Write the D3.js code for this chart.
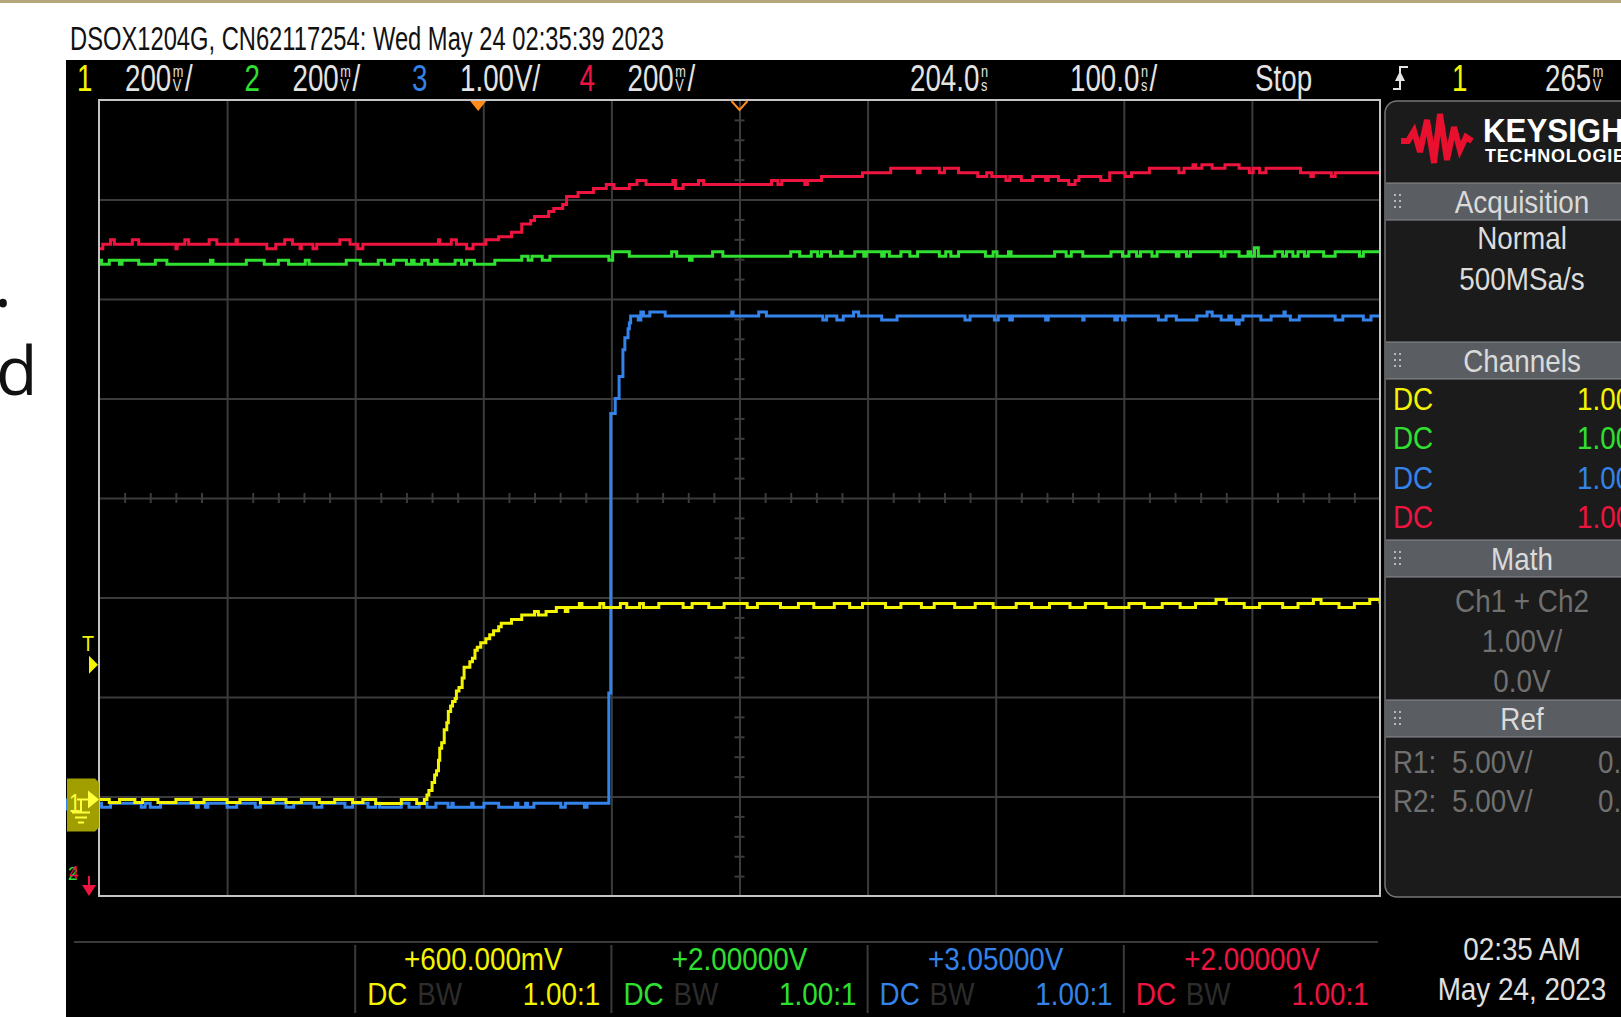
<!DOCTYPE html>
<html>
<head>
<meta charset="utf-8">
<script src="https://cdn.jsdelivr.net/npm/d3@7"></script>
<style>
  html, body { margin: 0; padding: 0; background: #fff; overflow: hidden; }
  svg { display: block; }
  text { font-family: "Liberation Sans", Arial, sans-serif; }
</style>
</head>
<body>
<div id="chart"></div>
<script>
const WIDTH = 1621, HEIGHT = 1017
const SCREEN = { LEFT: 66, TOP: 60 }
const GRID = { LEFT: 99, RIGHT: 1380, TOP: 100, BOTTOM: 896 }

// scope settings
const titleText = 'DSOX1204G, CN62117254: Wed May 24 02:35:39 2023'
const channelIds = ['1', '2', '3', '4']
const channelColors = ['#f4f400', '#30e030', '#3383ea', '#ee1440']
const voltsPerDiv = [0.2, 0.2, 1.0, 0.2]
const channelOffsets = [0.6, 2.0, 3.05, 2.0]
const scaleLabels = ['200mV/', '200mV/', '1.00V/', '200mV/']
const offsetLabels = ['+600.000mV', '+2.00000V', '+3.05000V', '+2.00000V']
const probeLabels = ['1.00:1', '1.00:1', '1.00:1', '1.00:1']
const timeDelay = 204.0
const timePerDiv = 100.0
const timeLabels = ['204.0ns', '100.0ns/']
const runState = 'Stop'
const triggerSource = '1'
const triggerTime = 0
const triggerLevel = 0.265
const triggerLabel = '265mV'

const acquisitionLines = ['Normal', '500MSa/s']
const channelCoupling = ['DC', 'DC', 'DC', 'DC']
const channelProbe = ['1.00', '1.00', '1.00', '1.00']
const mathLines = ['Ch1 + Ch2', '1.00V/', '0.0V']
const refLines = [['R1:', '5.00V/', '0.'], ['R2:', '5.00V/', '0.']]
const dateLines = ['02:35 AM', 'May 24, 2023']
const panelSections = ['Acquisition', 'Channels', 'Math', 'Ref']

// traces: [time ns, volts], each value holds until the next point
const ch1Trace = [[-296, -0.006], [-288, -0.012], [-280, -0.006], [-268, -0.012], [-262, -0.006], [-250, -0.012],
  [-236, -0.006], [-224, -0.012], [-214, -0.006], [-196, -0.012], [-186, -0.006], [-170, -0.012], [-160, -0.006],
  [-150, -0.012], [-138, -0.006], [-124, -0.012], [-112, -0.006], [-98, -0.012], [-90, -0.006], [-80, -0.014],
  [-60, -0.006], [-48, -0.014], [-42, -0.006], [-40, 0.003], [-38.5, 0.012], [-36, 0.028], [-34, 0.043],
  [-32.5, 0.052], [-31, 0.073], [-30, 0.097], [-28.5, 0.108], [-26.5, 0.134], [-24.5, 0.148], [-23.3, 0.171],
  [-21.5, 0.182], [-20, 0.191], [-18, 0.197], [-17, 0.212], [-15, 0.219], [-12.5, 0.238], [-11, 0.260],
  [-6.5, 0.271], [-4.5, 0.278], [-2.5, 0.294], [-0.7, 0.300], [2, 0.309], [6, 0.317], [9, 0.325], [12, 0.333],
  [16, 0.341], [18, 0.348], [26, 0.356], [34, 0.365], [44, 0.372], [47, 0.365], [53, 0.372], [61, 0.380],
  [68, 0.372], [70, 0.380], [79, 0.388], [81, 0.380], [95, 0.388], [98, 0.380], [111, 0.388], [116, 0.380],
  [126, 0.388], [129, 0.380], [141, 0.388], [160, 0.380], [167, 0.388], [180, 0.380], [192, 0.388], [210, 0.380],
  [218, 0.388], [236, 0.380], [250, 0.388], [262, 0.380], [278, 0.388], [290, 0.380], [300, 0.388], [318, 0.380],
  [330, 0.388], [346, 0.380], [356, 0.388], [372, 0.380], [388, 0.388], [402, 0.380], [420, 0.388], [432, 0.380],
  [446, 0.388], [462, 0.380], [474, 0.388], [490, 0.380], [508, 0.388], [520, 0.380], [534, 0.388], [548, 0.380],
  [560, 0.388], [576, 0.396], [584, 0.388], [598, 0.380], [610, 0.388], [628, 0.380], [640, 0.388], [652, 0.396],
  [658, 0.388], [672, 0.380], [684, 0.388], [696, 0.396], [704, 0.388]]

const ch2Trace = [[-296, 2.478], [-294, 2.470], [-288, 2.478], [-280, 2.470], [-278, 2.478], [-265, 2.470],
  [-252, 2.478], [-243, 2.470], [-209, 2.478], [-207, 2.470], [-181, 2.478], [-167, 2.470], [-156, 2.478],
  [-148, 2.470], [-135, 2.478], [-132, 2.470], [-103, 2.478], [-92, 2.470], [-78, 2.478], [-73, 2.470],
  [-66, 2.478], [-56, 2.470], [-52, 2.478], [-50, 2.470], [-44, 2.478], [-39, 2.470], [-34, 2.478], [-32, 2.470],
  [-18, 2.478], [-13, 2.470], [-9, 2.478], [-3, 2.470], [13, 2.478], [34, 2.486], [39, 2.478], [42, 2.486],
  [50, 2.478], [56, 2.486], [102, 2.478], [105, 2.495], [118, 2.486], [151, 2.495], [155, 2.486], [165, 2.478],
  [167, 2.486], [183, 2.495], [191, 2.486], [244, 2.495], [251, 2.486], [260, 2.495], [265, 2.486], [268, 2.495],
  [275, 2.486], [283, 2.495], [284, 2.486], [294, 2.495], [301, 2.486], [303, 2.495], [315, 2.486], [317, 2.495],
  [321, 2.486], [330, 2.495], [337, 2.486], [343, 2.495], [360, 2.486], [365, 2.495], [369, 2.486], [375, 2.495],
  [396, 2.486], [402, 2.495], [405, 2.486], [414, 2.495], [416, 2.486], [450, 2.495], [459, 2.486], [463, 2.495],
  [472, 2.486], [494, 2.495], [503, 2.486], [508, 2.495], [514, 2.486], [517, 2.495], [526, 2.486], [530, 2.495],
  [545, 2.486], [547, 2.495], [553, 2.486], [556, 2.495], [580, 2.486], [583, 2.495], [594, 2.486], [601, 2.495],
  [603, 2.486], [606, 2.503], [609, 2.486], [622, 2.495], [628, 2.486], [631, 2.495], [636, 2.486], [640, 2.495],
  [645, 2.486], [648, 2.495], [660, 2.486], [669, 2.495], [688, 2.486], [691, 2.495], [704, 2.495]]

const ch3Trace = [[-296, -0.018], [-294, -0.058], [-287, -0.018], [-263, -0.058], [-260, -0.018], [-256, -0.058],
  [-248, -0.018], [-220, -0.058], [-218.5, -0.018], [-213, -0.058], [-211, -0.018], [-196, -0.058],
  [-188.5, -0.018], [-174, -0.058], [-170, -0.018], [-150, -0.058], [-144, -0.018], [-128, -0.058],
  [-122, -0.018], [-104, -0.058], [-98, -0.018], [-86, -0.058], [-80, -0.018], [-77, -0.058], [-60, -0.018],
  [-54, -0.058], [-46, -0.018], [-40, -0.058], [-33, -0.018], [-23.5, -0.058], [-20.5, -0.018], [-19.5, -0.058],
  [-5, -0.018], [-4, -0.058], [4.5, -0.018], [16, -0.058], [29, -0.018], [31, -0.058], [37, -0.018],
  [38.5, -0.058], [43.5, -0.018], [64.5, -0.058], [68, -0.018], [83, -0.058], [85, -0.018], [102, 1.09],
  [103.5, 3.90], [107, 4.05], [110, 4.27], [113, 4.54], [114.5, 4.66], [117, 4.75], [118, 4.81], [119, 4.879],
  [125, 4.84], [127, 4.92], [129, 4.879], [134, 4.92], [146, 4.879], [198, 4.92], [199, 4.879], [219, 4.92],
  [225, 4.879], [269, 4.84], [272, 4.879], [280, 4.84], [285, 4.879], [293, 4.92], [297, 4.879], [315, 4.84],
  [327, 4.879], [380, 4.84], [384, 4.879], [403, 4.84], [406, 4.879], [415, 4.84], [417, 4.879], [443, 4.84],
  [445, 4.879], [472, 4.84], [473, 4.879], [497, 4.84], [499, 4.879], [503, 4.84], [505, 4.879], [531, 4.84],
  [537, 4.879], [545, 4.84], [561, 4.879], [569, 4.92], [573, 4.879], [580, 4.84], [586, 4.879], [588, 4.84],
  [592, 4.80], [594, 4.84], [597, 4.879], [611, 4.84], [619, 4.879], [629, 4.92], [630, 4.879], [634, 4.84],
  [641, 4.879], [669, 4.84], [675, 4.879], [691, 4.84], [697, 4.879], [704, 4.879]]

const ch4Trace = [[-296, 2.501], [-293, 2.510], [-287, 2.519], [-284, 2.510], [-270, 2.519], [-265, 2.510],
  [-236, 2.501], [-235, 2.510], [-229, 2.519], [-226, 2.510], [-210, 2.519], [-204, 2.510], [-189, 2.519],
  [-188, 2.510], [-165, 2.501], [-158, 2.510], [-151, 2.519], [-145, 2.510], [-139, 2.501], [-138, 2.510],
  [-129, 2.501], [-126, 2.510], [-108, 2.519], [-100, 2.510], [-94, 2.501], [-90, 2.510], [-31, 2.519],
  [-30, 2.510], [-21, 2.519], [-17, 2.510], [-9, 2.501], [-4, 2.510], [6, 2.519], [16, 2.525], [26, 2.534],
  [34, 2.551], [41, 2.558], [44, 2.566], [55, 2.576], [59, 2.582], [66, 2.590], [69, 2.606], [78, 2.614],
  [90, 2.622], [100, 2.630], [106, 2.622], [118, 2.630], [124, 2.638], [131, 2.630], [152, 2.638], [154, 2.622],
  [160, 2.630], [172, 2.638], [176, 2.630], [229, 2.638], [234, 2.630], [237, 2.638], [255, 2.630], [257, 2.638],
  [268, 2.646], [300, 2.654], [322, 2.663], [343, 2.654], [345, 2.663], [360, 2.654], [364, 2.663], [375, 2.654],
  [390, 2.646], [397, 2.654], [401, 2.646], [412, 2.638], [415, 2.646], [424, 2.638], [433, 2.646], [443, 2.638],
  [445, 2.646], [453, 2.638], [461, 2.630], [466, 2.638], [469, 2.646], [486, 2.638], [493, 2.654], [505, 2.646],
  [510, 2.654], [524, 2.663], [547, 2.654], [551, 2.663], [558, 2.670], [560, 2.663], [565, 2.670], [573, 2.663],
  [583, 2.670], [594, 2.663], [602, 2.654], [605, 2.663], [610, 2.654], [615, 2.663], [642, 2.654], [650, 2.646],
  [652, 2.654], [666, 2.646], [669, 2.654], [704, 2.654]]

const traces = [ch1Trace, ch2Trace, ch3Trace, ch4Trace]

const svg = d3.select('#chart').append('svg')
  .attr('width', WIDTH)
  .attr('height', HEIGHT)

// page behind the scope screen
svg.append('rect').attr('width', WIDTH).attr('height', HEIGHT).attr('fill', '#fff')
svg.append('rect').attr('width', WIDTH).attr('height', 3).attr('fill', '#b6a77a')
svg.append('text').attr('x', -6).attr('y', 307).attr('font-size', 68)
  .style('font-family', '"Open Sans", "Noto Sans", sans-serif').attr('fill', '#111').text('.')
svg.append('text').attr('x', -4).attr('y', 395).attr('font-size', 68)
  .style('font-family', '"Open Sans", "Noto Sans", sans-serif').attr('fill', '#111').text('d')

svg.append('text')
  .attr('x', 70).attr('y', 50)
  .attr('font-size', 33)
  .attr('textLength', 594).attr('lengthAdjust', 'spacingAndGlyphs')
  .attr('fill', '#111')
  .text(titleText)

svg.append('rect')
  .attr('x', SCREEN.LEFT).attr('y', SCREEN.TOP)
  .attr('width', WIDTH - SCREEN.LEFT).attr('height', HEIGHT - SCREEN.TOP)
  .attr('fill', '#000')

function scopeText(parent, x, y, str, opt = {}) {
  return parent.append('text')
    .attr('transform', `translate(${x},${y}) scale(${opt.sx || 0.87},1)`)
    .attr('font-size', opt.size || 32)
    .attr('fill', opt.color || '#dcdcdc')
    .attr('text-anchor', opt.anchor || 'start')
    .text(str)
}

// header text where mV / ns are printed as small stacked letters
function unitText(parent, x, y, str, color, size, sx) {
  const g = parent.append('g').attr('transform', `translate(${x},${y}) scale(${sx},1)`)
  let cx = 0
  str.split(/(mV|ns)/).filter(s => s).forEach(part => {
    if (part === 'mV' || part === 'ns') {
      const small = size * 0.46
      const a = g.append('text').attr('x', cx + 2).attr('y', -size * 0.37)
        .attr('font-size', small).attr('fill', color).text(part[0])
      const b = g.append('text').attr('x', cx + 2).attr('y', 0)
        .attr('font-size', small).attr('fill', color).text(part[1])
      cx += Math.max(a.node().getComputedTextLength(), b.node().getComputedTextLength()) + 4
    } else {
      const t = g.append('text').attr('x', cx).attr('y', 0)
        .attr('font-size', size).attr('fill', color).text(part)
      cx += t.node().getComputedTextLength()
    }
  })
  return g
}

// scales
const xScale = d3.scaleLinear()
  .domain([timeDelay - 5 * timePerDiv, timeDelay + 5 * timePerDiv])
  .range([GRID.LEFT, GRID.RIGHT])
const divScale = d3.scaleLinear().domain([-4, 4]).range([GRID.BOTTOM, GRID.TOP])
const yScales = channelOffsets.map((off, i) => d3.scaleLinear()
  .domain([off - 4 * voltsPerDiv[i], off + 4 * voltsPerDiv[i]])
  .range([GRID.BOTTOM, GRID.TOP]))

// header bar
const HEAD_Y = 91
const head = svg.append('g')
channelIds.forEach((id, i) => {
  const cx = 77 + i * 167.5
  scopeText(head, cx, HEAD_Y, id, { size: 37, sx: 0.75, color: channelColors[i] })
  unitText(head, cx + 48, HEAD_Y, scaleLabels[i], '#e4e4e4', 37, 0.75)
})
unitText(head, 910, HEAD_Y, timeLabels[0], '#e4e4e4', 37, 0.75)
unitText(head, 1070, HEAD_Y, timeLabels[1], '#e4e4e4', 37, 0.75)
scopeText(head, 1255, HEAD_Y, runState, { size: 37, sx: 0.75, color: '#e4e4e4' })
head.append('path').attr('d', 'M1393,89 H1400 V67 H1408').attr('fill', 'none')
  .attr('stroke', '#e4e4e4').attr('stroke-width', 2)
head.append('path').attr('d', 'M1395,81 L1405,81 L1400,71 Z').attr('fill', '#e4e4e4')
scopeText(head, 1452, HEAD_Y, triggerSource, { size: 37, sx: 0.75, color: channelColors[0] })
unitText(head, 1545, HEAD_Y, triggerLabel, '#e4e4e4', 37, 0.75)

// graticule
const gridG = svg.append('g')
const majorTimes = d3.range(1, 10).map(i => xScale.domain()[0] + i * timePerDiv)
const majorDivs = d3.range(-3, 4)
gridG.append('g')
  .attr('transform', `translate(0,${GRID.TOP})`)
  .call(d3.axisBottom(xScale).tickValues(majorTimes).tickSize(GRID.BOTTOM - GRID.TOP).tickFormat(''))
gridG.append('g')
  .attr('transform', `translate(${GRID.LEFT},0)`)
  .call(d3.axisRight(divScale).tickValues(majorDivs).tickSize(GRID.RIGHT - GRID.LEFT).tickFormat(''))

const minorTimes = d3.range(1, 50).filter(i => i % 5).map(i => xScale.domain()[0] + i * timePerDiv / 5)
const minorDivs = d3.range(-20, 21).filter(i => i % 5).map(i => i / 5)
gridG.append('g')
  .attr('transform', `translate(0,${divScale(0) - 5})`)
  .call(d3.axisBottom(xScale).tickValues(minorTimes).tickSize(10).tickFormat(''))
gridG.append('g')
  .attr('transform', `translate(${xScale(timeDelay) - 5},0)`)
  .call(d3.axisRight(divScale).tickValues(minorDivs).tickSize(10).tickFormat(''))
gridG.selectAll('.domain').remove()
gridG.selectAll('line').attr('stroke', '#3b3b3b').attr('stroke-width', 2)

svg.append('rect')
  .attr('x', GRID.LEFT).attr('y', GRID.TOP)
  .attr('width', GRID.RIGHT - GRID.LEFT).attr('height', GRID.BOTTOM - GRID.TOP)
  .attr('fill', 'none').attr('stroke', '#c4c4c4').attr('stroke-width', 2)

// waveforms
svg.append('clipPath').attr('id', 'gridClip')
  .append('rect')
  .attr('x', GRID.LEFT + 1).attr('y', GRID.TOP + 1)
  .attr('width', GRID.RIGHT - GRID.LEFT - 2).attr('height', GRID.BOTTOM - GRID.TOP - 2)

const traceG = svg.append('g').attr('clip-path', 'url(#gridClip)')
;[3, 2, 1, 0].forEach(i => {
  const line = d3.line()
    .x(d => xScale(d[0]))
    .y(d => yScales[i](d[1]))
    .curve(d3.curveStepAfter)
  traceG.append('path')
    .datum(traces[i])
    .attr('d', line)
    .attr('fill', 'none')
    .attr('stroke', channelColors[i])
    .attr('stroke-width', 3)
})

// trigger / delay markers on top edge
const tx = xScale(triggerTime)
svg.append('path').attr('d', `M${tx - 8},${GRID.TOP + 1} L${tx + 8},${GRID.TOP + 1} L${tx},${GRID.TOP + 11} Z`)
  .attr('fill', '#ff8c1a')
const dx = xScale(timeDelay)
svg.append('path').attr('d', `M${dx - 8},${GRID.TOP + 1} L${dx},${GRID.TOP + 10} L${dx + 8},${GRID.TOP + 1}`)
  .attr('fill', 'none').attr('stroke', '#ff8c1a').attr('stroke-width', 2)

// trigger level marker
const ty = yScales[0](triggerLevel)
scopeText(svg, 88, ty - 14, 'T', { size: 22, sx: 0.9, color: channelColors[0], anchor: 'middle' })
svg.append('path').attr('d', `M89,${ty - 9} L98,${ty} L89,${ty + 9} Z`).attr('fill', channelColors[0])

// ground markers
const by = yScales[2](0)
svg.append('rect').attr('x', 66).attr('y', by - 3).attr('width', 3).attr('height', 12).attr('fill', channelColors[2])
const gy = yScales[0](0) + 3
svg.append('path')
  .attr('d', `M67,${gy - 21} H95 L99,${gy - 17} V${gy + 28} L95,${gy + 32} H67 Z`)
  .attr('fill', '#a19e00')
scopeText(svg, 69, gy + 12, '1', { size: 26, sx: 0.8, color: '#ffff3a' })
svg.append('path').attr('d', `M88,${gy - 9} L99,${gy} L88,${gy + 9} Z`).attr('fill', '#ffff3a')
svg.append('path')
  .attr('d', `M77,${gy} H88 M81,${gy} V${gy + 13} M72,${gy + 13} H90 M75,${gy + 18} H87 M78,${gy + 23} H84`)
  .attr('stroke', '#ffff3a').attr('stroke-width', 2).attr('fill', 'none')

// channels 2 and 4 are off screen below
scopeText(svg, 68, 880, channelIds[1], { size: 19, sx: 0.9, color: channelColors[1] })
scopeText(svg, 69, 879, channelIds[3], { size: 19, sx: 0.9, color: channelColors[3] })
svg.append('path').attr('d', 'M89,876 V888').attr('stroke', channelColors[3]).attr('stroke-width', 2)
svg.append('path').attr('d', 'M82,885 L96,885 L89,896 Z').attr('fill', channelColors[3])

// right side panel
const panel = svg.append('g')
panel.append('rect')
  .attr('x', 1385).attr('y', 101).attr('width', 280).attr('height', 796).attr('rx', 12)
  .attr('fill', '#1b1b1b').attr('stroke', '#777').attr('stroke-width', 1.5)

const logoLine = d3.line()
panel.append('path')
  .attr('d', logoLine([[1401, 141], [1408, 141], [1414, 131], [1420, 152], [1427, 120], [1434, 163],
    [1440, 114], [1447, 160], [1454, 127], [1460, 150], [1466, 137], [1472, 141]]))
  .attr('fill', 'none').attr('stroke', '#e8102e').attr('stroke-width', 6).attr('stroke-linejoin', 'miter')
panel.append('text').attr('x', 1483).attr('y', 142).attr('font-size', 34).attr('font-weight', 'bold')
  .attr('fill', '#fff').attr('transform', 'translate(1483,0) scale(0.92,1) translate(-1483,0)').text('KEYSIGHT')
panel.append('text').attr('x', 1485).attr('y', 162).attr('font-size', 18).attr('letter-spacing', 0.8)
  .attr('font-weight', 'bold').attr('fill', '#fff').text('TECHNOLOGIES')

const bandTops = [183, 342, 540, 700]
panelSections.forEach((name, i) => {
  const y0 = bandTops[i]
  panel.append('rect').attr('x', 1386).attr('y', y0).attr('width', 240).attr('height', 37).attr('fill', '#5a5e62')
  panel.append('path').attr('d', `M1386,${y0} H1626 M1386,${y0 + 37} H1626`).attr('stroke', '#8a8d90').attr('stroke-width', 1)
  for (let c = 0; c < 2; c++) {
    for (let r = 0; r < 3; r++) {
      panel.append('rect').attr('x', 1394 + c * 5).attr('y', y0 + 11 + r * 6).attr('width', 2).attr('height', 2).attr('fill', '#b8b8b8')
    }
  }
  scopeText(panel, 1522, y0 + 30, name, { anchor: 'middle', color: '#dadada' })
})

acquisitionLines.forEach((s, i) => scopeText(panel, 1522, 249 + i * 41, s, { anchor: 'middle', color: '#dcdcdc' }))
channelCoupling.forEach((s, i) => {
  scopeText(panel, 1393, 410 + i * 39.3, s, { color: channelColors[i] })
  scopeText(panel, 1577, 410 + i * 39.3, channelProbe[i], { color: channelColors[i] })
})
mathLines.forEach((s, i) => scopeText(panel, 1522, 612 + i * 40, s, { anchor: 'middle', color: '#707070' }))
refLines.forEach((row, i) => {
  const y = 773 + i * 39
  scopeText(panel, 1393, y, row[0], { color: '#707070' })
  scopeText(panel, 1452, y, row[1], { color: '#707070' })
  scopeText(panel, 1598, y, row[2], { color: '#707070' })
})

// bottom channel info
const colW = (GRID.RIGHT - GRID.LEFT) / 10
const bottom = svg.append('g')
bottom.append('path').attr('d', `M74,942 H${GRID.RIGHT - 2}`).attr('stroke', '#3a3a3a').attr('stroke-width', 2)
channelIds.forEach((id, i) => {
  const sx = GRID.LEFT + (2 + 2 * i) * colW
  bottom.append('path').attr('d', `M${sx},945 V1013`).attr('stroke', '#3a3a3a').attr('stroke-width', 2)
  scopeText(bottom, sx + colW, 970, offsetLabels[i], { anchor: 'middle', color: channelColors[i] })
  scopeText(bottom, sx + 12, 1005, channelCoupling[i], { color: channelColors[i] })
  scopeText(bottom, sx + 62, 1005, 'BW', { color: '#2c2c2c' })
  scopeText(bottom, sx + 245, 1005, probeLabels[i], { anchor: 'end', color: channelColors[i] })
})
dateLines.forEach((s, i) => scopeText(bottom, 1522, 960 + i * 40, s, { anchor: 'middle', color: '#e0e0e0' }))
</script>
</body>
</html>
